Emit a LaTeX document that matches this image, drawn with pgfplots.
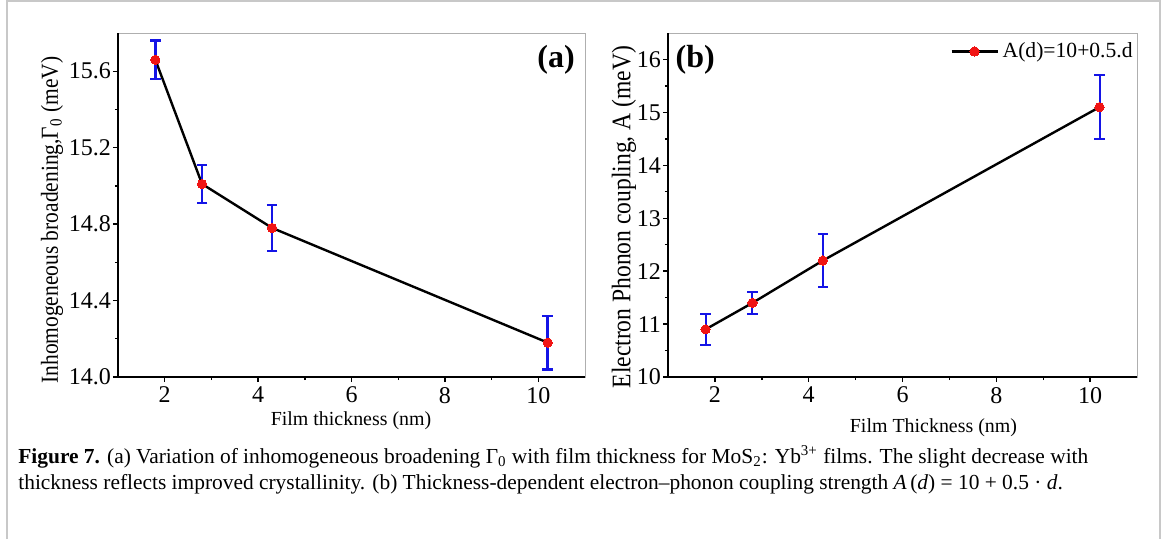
\documentclass[border=0pt]{standalone}
\usepackage{fontspec}
\setmainfont{Liberation Serif}
\newfontfamily\labelfont[FakeStretch=0.88]{Liberation Serif}
\usepackage{pgfplots}
\pgfplotsset{compat=1.18}

\definecolor{framegray}{RGB}{200,200,200}
\definecolor{boxgray}{RGB}{175,175,175}
\definecolor{errblue}{RGB}{20,20,230}
\definecolor{dotred}{RGB}{240,20,20}

\pgfplotsset{
  panel/.style={
    width=233.5bp, height=172bp, scale only axis,
    xmin=1, xmax=11, xtick={2,4,6,8,10}, minor x tick num=1,
    tick align=outside, xtick pos=bottom, ytick pos=left,
    major tick length=2.5bp, minor tick length=1.6bp,
    every tick/.style={black, line width=0.7bp},
    axis line style={draw=boxgray, line width=0.5bp},
    tick label style={font=\fontsize{12bp}{13bp}\selectfont},
    yticklabel style={xshift=2.5bp},
    xticklabel style={yshift=1bp},
    label style={font=\labelfont\fontsize{12.6bp}{14bp}\selectfont},
    /pgf/number format/assume math mode=true,
    clip=false,
  },
  errs/.style={
    black, line width=1.2bp, mark=*, mark size=2.3bp,
    mark options={fill=dotred, draw=dotred, line width=0pt},
    error bars/.cd, y dir=both, y explicit,
    error bar style={errblue, line width=#1},
    error mark options={rotate=90, errblue, mark size=2.6bp, line width=#1},
  },
}

\begin{document}
\begin{tikzpicture}[x=1bp,y=1bp]
\path[use as bounding box] (-59,-81) rectangle (524.5,188.5);
\draw[framegray, line width=0.8bp] (-55.5,-81) -- (-55.5,188) -- (521,188) -- (521,-81);

% (a)
\begin{axis}[panel, at={(0bp,0bp)}, anchor=south west,
    ymin=14.0, ymax=15.8, ytick={14,14.4,14.8,15.2,15.6}, minor y tick num=1,
    yticklabel style={/pgf/number format/.cd, fixed, fixed zerofill, precision=1},
    xlabel={Film thickness (nm)},
    ylabel={Inhomogeneous broadening,Γ\textsubscript{0} (meV)},
    every axis x label/.style={at={(axis description cs:0.499,-0.128)}, anchor=center},
    every axis y label/.style={at={(axis description cs:-0.141,0.456)}, rotate=90, anchor=center,
      font=\labelfont\fontsize{12.2bp}{14bp}\selectfont},
  ]
\addplot[errs=1.3bp] coordinates {
  (1.8,15.66) +- (0,0.10)
  (2.8,15.01) +- (0,0.10)
  (4.3,14.78) +- (0,0.12)
  (10.2,14.18) +- (0,0.14)
};
\draw[black, line width=0.9bp] (rel axis cs:0,1) -- (rel axis cs:0,0) -- (rel axis cs:1,0);
\node[font=\bfseries\fontsize{16bp}{18bp}\selectfont] at (rel axis cs:0.938,0.922) {(a)};
\end{axis}

% (b)
\begin{axis}[panel, at={(275bp,0bp)}, anchor=south west, width=234.5bp,
    ymin=10, ymax=16.5, ytick={10,11,...,16}, minor y tick num=1,
    xlabel={Film Thickness (nm)},
    ylabel={Electron Phonon coupling, A (meV)},
    every axis x label/.style={at={(axis description cs:0.566,-0.146)}, anchor=center},
    every axis y label/.style={at={(axis description cs:-0.094,0.465)}, rotate=90, anchor=center,
      font=\labelfont\fontsize{13.4bp}{15bp}\selectfont},
    legend style={draw=none, fill=none, at={(axis description cs:1.0,0.985)}, anchor=north east,
      font=\fontsize{10.8bp}{12bp}\selectfont, inner sep=0pt},
    legend image code/.code={\draw[mark repeat=2, mark phase=2, #1]
      plot coordinates {(0bp,0bp) (11.5bp,0bp) (23bp,0bp)};},
  ]
\addplot[errs=1bp] coordinates {
  (1.8,10.9) +- (0,0.3)
  (2.8,11.4) +- (0,0.2)
  (4.3,12.2) +- (0,0.5)
  (10.2,15.1) +- (0,0.6)
};
\addlegendentry{A(d)=10+0.5.d}
\draw[black, line width=0.9bp] (rel axis cs:0,1) -- (rel axis cs:0,0) -- (rel axis cs:1,0);
\node[font=\bfseries\fontsize{16bp}{18bp}\selectfont] at (rel axis cs:0.058,0.922) {(b)};
\end{axis}

% caption
\node[anchor=base west, inner sep=0pt, font=\fontsize{10.7bp}{12bp}\selectfont] at (-50,-43)
  {\textbf{Figure 7.} (a) Variation of inhomogeneous broadening Γ\textsubscript{0} with film thickness for MoS\textsubscript{2}: Yb\textsuperscript{3+} films. The slight decrease with};
\node[anchor=base west, inner sep=0pt, font=\fontsize{10.7bp}{12bp}\selectfont] at (-50,-56)
  {thickness reflects improved crystallinity. (b) Thickness-dependent electron–phonon coupling strength \textit{A}\,(\textit{d}) = 10 + 0.5 · \textit{d}.};
\end{tikzpicture}
\end{document}
